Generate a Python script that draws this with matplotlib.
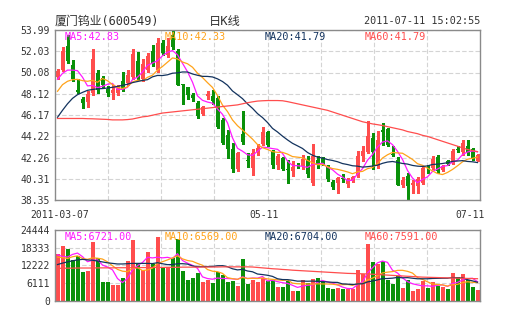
import matplotlib
matplotlib.use("Agg")
import matplotlib.pyplot as plt
import numpy as np
import pandas as pd

plt.rcParams['font.family'] = ['DejaVu Sans Mono', 'Noto Sans CJK SC']

# daily candles, 厦门钨业 (600549)
opens = [49.64, 50.3, 52.55, 50.8, 48.5, 47.66, 47.4, 48.2, 50.05, 49.6,
         48.55, 48.2, 48.15, 49.3, 49.1, 49.7, 51.1, 49.5, 50.3, 52.1,
         50.3, 52.8, 51.7, 53.5, 52.1, 49.0, 48.7, 48.0, 47.3, 46.3,
         47.9, 47.9, 47.7, 45.7, 44.3, 43.0, 41.2, 44.4, 42.0, 41.3,
         42.75, 43.5, 44.6, 42.85, 41.6, 42.2, 41.15, 41.0, 41.6, 41.5,
         42.0, 39.9, 42.05, 42.2, 41.4, 40.0, 39.9, 40.33, 39.8, 40.16,
         40.68, 42.37, 42.8, 44.05, 41.5, 44.8, 44.9, 42.6, 42.0, 39.75,
         40.6, 39.7, 39.6, 39.9, 41.32, 41.3, 42.3, 41.1, 41.95, 41.8,
         43.0, 42.8, 43.3, 43.0, 41.97]
closes = [50.25, 52.1, 51.1, 49.5, 48.3, 47.24, 48.1, 51.3, 48.5, 48.9,
          48.2, 48.5, 48.55, 48.5, 49.85, 51.75, 49.6, 50.9, 51.6, 50.9,
          52.8, 51.9, 52.5, 52.4, 48.95, 48.9, 48.0, 47.7, 46.1, 46.9,
          48.1, 47.5, 45.05, 43.6, 43.0, 41.2, 42.7, 43.7, 41.97, 42.7,
          43.1, 44.6, 43.45, 41.55, 42.37, 41.2, 41.1, 41.4, 41.45, 42.1,
          40.7, 42.4, 41.65, 41.8, 40.3, 39.5, 40.4, 40.3, 40.2, 40.44,
          42.37, 42.85, 44.2, 42.8, 43.9, 44.65, 43.4, 42.45, 39.75, 40.15,
          39.6, 39.9, 40.3, 41.3, 41.3, 42.1, 41.0, 41.5, 41.7, 42.9,
          42.97, 43.57, 42.7, 42.15, 42.5]
highs = [50.4, 52.4, 53.5, 51.2, 49.5, 47.8, 48.4, 52.2, 50.3, 49.8,
         48.85, 48.9, 48.9, 50.1, 50.3, 52.2, 52.0, 51.3, 51.9, 52.6,
         53.3, 53.1, 53.3, 53.99, 52.2, 49.05, 48.75, 48.2, 47.5, 47.0,
         48.4, 48.5, 47.9, 45.9, 44.8, 43.6, 42.8, 46.5, 42.65, 43.0,
         43.5, 45.1, 44.7, 42.95, 42.55, 42.3, 42.06, 41.9, 41.8, 42.5,
         42.4, 43.5, 42.4, 42.3, 41.6, 40.2, 40.5, 40.7, 40.4, 40.6,
         42.9, 43.3, 45.6, 44.5, 44.7, 45.4, 45.0, 43.3, 42.3, 40.5,
         40.8, 40.2, 40.5, 41.4, 41.6, 42.4, 42.5, 41.6, 42.05, 43.0,
         43.3, 43.9, 43.9, 43.1, 42.6]
lows = [49.5, 50.2, 51.0, 49.3, 48.2, 46.8, 46.9, 48.0, 48.2, 48.7,
        47.9, 47.6, 48.0, 48.35, 48.9, 49.5, 49.35, 49.3, 50.1, 50.7,
        50.1, 51.7, 51.5, 52.2, 48.9, 47.2, 47.6, 47.5, 45.9, 46.2,
        47.6, 47.2, 45.0, 43.5, 42.2, 40.9, 41.0, 43.5, 41.4, 40.65,
        42.5, 43.4, 43.3, 41.3, 41.2, 41.1, 39.9, 40.6, 41.3, 41.2,
        40.5, 39.7, 41.3, 41.6, 40.1, 39.4, 39.0, 40.03, 39.5, 40.0,
        40.5, 41.9, 42.7, 41.2, 41.3, 43.4, 43.3, 42.4, 39.7, 39.5,
        38.35, 39.0, 39.0, 39.8, 40.8, 41.2, 40.8, 41.0, 41.6, 41.7,
        42.8, 42.5, 42.5, 42.0, 41.9]
volumes = [16090, 18910, 17790, 14060, 15520, 9850, 10190, 20370, 14730, 6450,
           6450, 5330, 5330, 7810, 13820, 20840, 12900, 10660, 16870, 12700,
           22070, 11780, 11540, 14730, 21180, 10190, 7260, 7810, 9510, 6450,
           7260, 6110, 9850, 8720, 6450, 6690, 5090, 14390, 5670, 7300,
           6500, 7940, 6690, 7030, 4750, 4750, 6690, 3400, 3400, 7030,
           6110, 7370, 7810, 6690, 4420, 4070, 4420, 3970, 4200, 4200,
           10760, 9300, 19480, 13240, 12700, 13820, 7030, 5900, 8390, 4420,
           7260, 3290, 3970, 6790, 4420, 6350, 5090, 4750, 4070, 9510,
           8150, 9300, 7030, 4750, 3630]

ma5_head = [49.45, 50.0, 50.3, 50.3]
ma10_head = [48.35, 48.96, 49.27, 49.42, 49.45, 49.33, 49.27, 49.36, 49.18]
ma20_head = [45.96, 46.6, 47.2, 47.7, 48.04, 48.25, 48.44, 48.52, 48.58, 48.6,
             48.65, 48.72, 48.8, 48.9, 49.0, 49.15, 49.25, 49.35, 49.42]
ma60 = [45.85, 45.85, 45.85, 45.85, 45.85, 45.85, 45.83, 45.82, 45.8, 45.78,
        45.76, 45.72, 45.72, 45.72, 45.75, 45.8, 45.9, 46.0, 46.05, 46.15,
        46.25, 46.35, 46.4, 46.45, 46.5, 46.55, 46.6, 46.65, 46.7, 46.75,
        46.8, 46.85, 46.9, 46.95, 47.0, 47.05, 47.1, 47.2, 47.3, 47.38,
        47.45, 47.48, 47.5, 47.5, 47.5, 47.48, 47.4, 47.3, 47.2, 47.1,
        47.0, 46.9, 46.8, 46.7, 46.6, 46.45, 46.3, 46.15, 46.0, 45.85,
        45.7, 45.55, 45.45, 45.35, 45.28, 45.2, 45.1, 45.0, 44.9, 44.8,
        44.65, 44.55, 44.45, 44.3, 44.2, 44.05, 43.9, 43.75, 43.6, 43.45,
        43.3, 43.15, 43.0, 42.9, 42.8]
vol_ma5_head = [15850, 15300, 15100, 16000]
vol_ma10_head = [15100, 14900, 14600, 15200, 15500, 14600, 14300, 14800, 14700]
vol_ma20_head = [12500, 13000, 13400, 13800, 14100, 14300, 14100, 14000, 13700, 13400,
                 13100, 12900, 12700, 12700, 12800, 12900, 12900, 12900, 12900]
vol_ma60 = [11200, 11200, 11250, 11250, 11300, 11300, 11300, 11300, 11350, 11350,
            11350, 11350, 11400, 11400, 11400, 11400, 11450, 11450, 11450, 11500,
            11500, 11500, 11550, 11550, 11550, 11600, 11600, 11600, 11600, 11650,
            11650, 11650, 11650, 11700, 11700, 11700, 11700, 11700, 11700, 11650,
            11500, 11350, 11200, 11050, 10950, 10800, 10700, 10550, 10450, 10350,
            10250, 10150, 10050, 9950, 9850, 9750, 9650, 9550, 9450, 9400,
            9350, 9300, 9250, 9150, 9050, 8950, 8850, 8750, 8650, 8550,
            8450, 8350, 8250, 8150, 8100, 8050, 8000, 7950, 7900, 7850,
            7800, 7750, 7700, 7650, 7600]

price_ticks = [38.35, 40.31, 42.26, 44.22, 46.17, 48.12, 50.08, 52.03, 53.99]
vol_ticks = [0, 6111, 12222, 18333, 24444]
date_labels = ['2011-03-07', '05-11', '07-11']
price_ma_labels = ['MA5:42.83', 'MA10:42.33', 'MA20:41.79', 'MA60:41.79']
vol_ma_labels = ['MA5:6721.00', 'MA10:6569.00', 'MA20:6704.00', 'MA60:7591.00']

RED = '#ff4d4d'
GREEN = '#0a910a'
MA_COLORS = ['#ff1aff', '#ffa31a', '#13335e', '#ff4d4d']
GRID = '#d4d4d4'
FRAME = '#8a8a8a'
TEXT = '#333333'


def moving_avg(values, n, head):
    out = pd.Series(values, dtype=float).rolling(n).mean().to_numpy()
    out[:n - 1] = head
    return out


o = np.array(opens)
c = np.array(closes)
x = np.arange(len(c))
colors = np.where(c >= o, RED, GREEN)

fig = plt.figure(figsize=(5.05, 3.30), dpi=100)
ax = fig.add_axes([55 / 505, 130 / 330, 425 / 505, 170 / 330])
axv = fig.add_axes([55 / 505, 29.3 / 330, 425 / 505, 70.7 / 330])

grid_x = [-0.5 + 85 * k / 8 for k in range(1, 8)]
for a in (ax, axv):
    a.set_xlim(-0.5, len(c) - 0.5)
    a.set_xticks(grid_x, minor=True)
    a.xaxis.grid(True, which='minor', color=GRID, ls=(0, (4, 2)), lw=0.8)
    a.yaxis.grid(True, color=GRID, ls=(0, (4, 2)), lw=0.8)
    a.set_axisbelow(True)
    a.tick_params(which='both', length=0, labelsize=7, labelcolor=TEXT)
    a.tick_params(axis='y', pad=3.5)
    for s in a.spines.values():
        s.set_color(FRAME)
        s.set_linewidth(1.0)

# candles
ax.vlines(x, lows, highs, colors=colors, lw=0.75, antialiased=False)
ax.bar(x, np.maximum(np.abs(c - o), 0.06), bottom=np.minimum(o, c),
       width=0.8, color=colors, linewidth=0, antialiased=False)
price_mas = [moving_avg(closes, 5, ma5_head), moving_avg(closes, 10, ma10_head),
             moving_avg(closes, 20, ma20_head), np.array(ma60)]
for line, col in zip(price_mas, MA_COLORS):
    ax.plot(x, line, color=col, lw=0.9)

ax.set_ylim(price_ticks[0], price_ticks[-1])
ax.set_yticks(price_ticks)
ax.set_yticklabels([f'{t:.2f}' for t in price_ticks])
ax.set_xticks([0.4, 41.3, 82.5])
ax.set_xticklabels(date_labels)
ax.tick_params(axis='x', pad=7.5)

# volume
axv.bar(x, volumes, width=0.8, color=colors, linewidth=0, antialiased=False)
vol_mas = [moving_avg(volumes, 5, vol_ma5_head), moving_avg(volumes, 10, vol_ma10_head),
           moving_avg(volumes, 20, vol_ma20_head), np.array(vol_ma60)]
for line, col in zip(vol_mas, MA_COLORS):
    axv.plot(x, line, color=col, lw=0.9)
axv.set_ylim(vol_ticks[0], vol_ticks[-1])
axv.set_yticks(vol_ticks)
axv.set_xticks([])

# legend texts inside the panels
label_x = [10 / 425, 110 / 425, 210 / 425, 310 / 425]
for lx, txt, col in zip(label_x, price_ma_labels, MA_COLORS):
    ax.text(lx, 1 - 7 / 170, txt, transform=ax.transAxes, color=col,
            fontsize=7.3, va='center', ha='left')
for lx, txt, col in zip(label_x, vol_ma_labels, MA_COLORS):
    axv.text(lx, 1 - 6.7 / 70.7, txt, transform=axv.transAxes, color=col,
             fontsize=7.3, va='center', ha='left')

# header
fig.text(55 / 505, 1 - 21.5 / 330, '厦门钨业(600549)', fontsize=8.6, color=TEXT,
         va='center', ha='left')
fig.text(225 / 505, 1 - 21.5 / 330, '日K线', fontsize=8.8, color=TEXT,
         va='center', ha='center')
fig.text(480 / 505, 1 - 21.5 / 330, '2011-07-11 15:02:55', fontsize=7.3,
         color=TEXT, va='center', ha='right')

fig.savefig('out.png', dpi=100, facecolor='white')
